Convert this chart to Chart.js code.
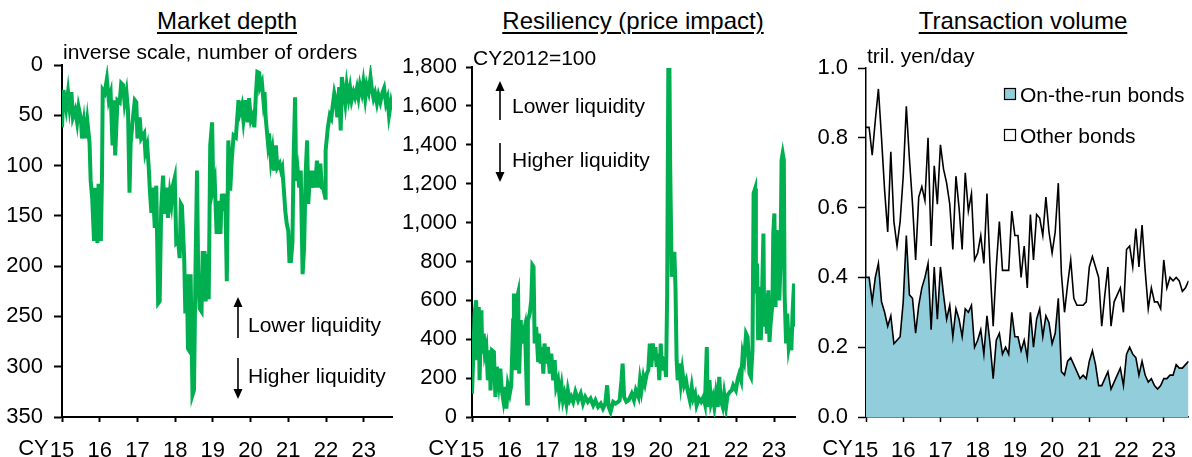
<!DOCTYPE html>
<html>
<head>
<meta charset="utf-8">
<script src="https://cdn.jsdelivr.net/npm/chart.js@4.4.1/dist/chart.umd.min.js"></script>
<style>
  body { margin: 0; background: #fff; }
  #wrap { position: relative; width: 1192px; height: 457px; overflow: hidden;
          font-family: "Liberation Sans", Arial, sans-serif; }
  #wrap canvas { position: absolute; left: 0; top: 0; }
  .ttl { position: absolute; top: 9px; font-size: 24px; line-height: 24px; white-space: nowrap;
         text-decoration: underline; text-decoration-thickness: 1.5px; text-underline-offset: 3px;
         transform: translateX(-50%); color: #000; }
</style>
</head>
<body>
<div id="wrap">
  <div class="ttl" style="left:227px">Market depth</div>
  <div class="ttl" style="left:633px">Resiliency (price impact)</div>
  <div class="ttl" style="left:1023px">Transaction volume</div>
  <canvas id="depth" width="1192" height="457"></canvas>
  <canvas id="impact" width="1192" height="457"></canvas>
  <canvas id="volume" width="1192" height="457"></canvas>
</div>
<script>
// ---- data ----
const yearLabels = ["15", "16", "17", "18", "19", "20", "21", "22", "23"];

// market depth: years since start of CY2015, number of orders
const depthT = [0.00,0.04,0.11,0.16,0.20,0.25,0.29,0.35,0.40,0.44,0.50,0.53,0.58,0.62,0.67,0.73,0.76,0.80,0.85,0.88,
  0.94,0.97,1.03,1.06,1.08,1.13,1.19,1.24,1.29,1.34,1.38,1.41,1.47,1.53,1.57,1.62,1.66,1.71,1.75,1.79,
  1.82,1.87,1.93,1.97,2.00,2.06,2.10,2.18,2.21,2.26,2.30,2.33,2.37,2.41,2.46,2.50,2.55,2.59,2.63,2.68,
  2.72,2.77,2.81,2.86,2.90,2.94,2.99,3.03,3.08,3.12,3.15,3.18,3.24,3.27,3.31,3.34,3.39,3.41,3.46,3.50,
  3.54,3.58,3.61,3.65,3.70,3.73,3.78,3.81,3.85,3.89,3.93,3.98,4.01,4.05,4.10,4.14,4.20,4.24,4.28,4.33,
  4.37,4.41,4.46,4.50,4.55,4.61,4.68,4.72,4.77,4.81,4.87,4.92,4.96,5.01,5.06,5.10,5.14,5.18,5.23,5.25,
  5.30,5.34,5.37,5.40,5.46,5.49,5.54,5.58,5.62,5.67,5.71,5.77,5.81,5.84,5.89,5.92,5.96,6.00,6.03,6.07,
  6.11,6.14,6.18,6.21,6.25,6.29,6.33,6.38,6.42,6.46,6.50,6.53,6.58,6.62,6.67,6.71,6.76,6.81,6.85,6.89,
  6.93,6.98,6.99,7.05,7.10,7.14,7.17,7.22,7.26,7.30,7.35,7.39,7.42,7.47,7.51,7.55,7.60,7.64,7.68,7.73,
  7.77,7.82,7.86,7.90,7.95,7.99,8.04,8.08,8.13,8.18,8.21,8.26,8.30,8.35,8.39,8.44,8.50,8.54,8.59,8.63,
  8.67,8.72,8.75];
const depthOrders = [62,25,43,27,42,27,52,45,57,42,53,73,57,73,55,77,115,132,175,122,
  177,118,175,112,25,28,14,35,28,80,35,90,35,37,18,20,38,27,45,127,
  78,57,35,37,73,52,73,68,87,80,102,125,147,122,162,120,237,235,142,110,
  148,122,152,128,138,120,112,177,175,192,138,140,192,247,208,282,285,208,328,323,
  202,105,205,242,245,187,187,235,188,233,80,57,122,115,168,135,168,128,145,128,
  215,75,125,95,70,72,35,47,40,55,35,57,33,55,50,62,30,7,8,22,
  17,35,27,52,77,68,95,85,105,80,102,98,105,102,128,145,158,165,195,195,
  177,95,32,115,105,122,105,208,182,108,75,138,105,122,105,122,95,122,98,122,
  123,132,85,62,50,53,43,28,35,52,22,65,12,27,38,20,33,23,35,27,
  32,23,32,20,28,17,33,20,27,12,22,33,28,38,30,37,27,23,38,33,
  50,38,45];

// resiliency: years since start of CY2015, price impact (CY2012=100)
const impactT = [0.00,0.03,0.07,0.11,0.14,0.18,0.20,0.25,0.27,0.31,0.34,0.38,0.42,0.47,0.49,0.53,0.58,0.62,0.66,0.71,
  0.75,0.79,0.83,0.87,0.91,0.95,1.00,1.04,1.09,1.11,1.15,1.18,1.22,1.25,1.29,1.32,1.36,1.40,1.42,1.46,
  1.48,1.53,1.57,1.60,1.63,1.66,1.70,1.75,1.77,1.82,1.85,1.89,1.92,1.97,2.01,2.06,2.10,2.15,2.19,2.23,
  2.28,2.32,2.37,2.41,2.45,2.50,2.54,2.59,2.63,2.68,2.74,2.81,2.88,2.94,3.00,3.07,3.14,3.21,3.27,3.34,
  3.41,3.47,3.53,3.58,3.62,3.67,3.74,3.80,3.87,3.91,3.96,3.99,4.03,4.09,4.15,
  4.23,4.29,4.34,4.41,4.45,4.49,4.54,4.58,4.63,4.67,4.71,4.75,4.79,4.82,4.86,4.89,4.93,4.96,5.00,5.03,
  5.07,5.11,5.14,5.17,5.20,5.23,5.25,5.29,5.33,5.36,5.39,5.42,5.45,5.48,5.53,5.57,5.62,5.67,5.71,5.77,
  5.82,5.86,5.91,5.95,6.01,6.07,6.13,6.17,6.22,6.24,6.29,6.33,6.38,6.42,6.46,6.51,6.55,6.59,6.64,6.68,
  6.73,6.77,6.83,6.88,6.92,6.99,7.04,7.08,7.13,7.17,7.21,7.26,7.30,7.35,7.39,7.43,7.46,7.50,7.52,7.55,
  7.58,7.61,7.65,7.68,7.72,7.74,7.78,7.81,7.85,7.88,7.91,7.96,7.98,8.01,8.04,8.07,8.11,8.14,8.17,8.20,
  8.23,8.26,8.28,8.32,8.35,8.39,8.42,8.46,8.49,8.53,8.56];
const impactIndex = [120,292,532,600,292,566,189,549,326,429,326,360,189,343,137,343,335,103,258,172,
  249,137,86,155,43,163,120,163,498,635,240,600,635,223,498,378,429,464,343,69,
  498,532,600,781,772,378,464,292,429,275,360,223,378,275,360,223,326,189,292,155,
  189,103,163,86,120,69,137,86,103,78,129,86,120,69,103,78,95,60,86,52,
  69,43,69,163,52,26,78,69,78,86,189,275,103,78,86,
  120,86,137,103,189,137,206,172,223,240,378,258,378,292,360,258,326,189,378,240,
  292,275,206,635,1785,1785,1287,721,807,850,669,292,189,275,172,240,163,189,137,86,
  155,95,120,60,95,78,103,69,360,52,189,69,103,52,120,52,206,86,52,120,
  52,112,129,137,163,137,197,223,189,326,292,429,412,223,206,343,1150,1175,635,789,
  395,669,395,600,944,464,635,429,652,386,481,583,944,1047,566,961,824,600,772,1321,
  1356,1321,635,378,532,360,395,343,532,686,464];

// transaction volume, monthly from Jan 2015, tril. yen/day
const onTheRun = [0.40,0.40,0.33,0.40,0.44,0.33,0.30,0.26,0.29,0.21,0.22,0.23,0.33,0.52,0.35,0.34,0.24,0.32,0.37,0.40,
  0.44,0.25,0.43,0.28,0.43,0.35,0.28,0.32,0.23,0.31,0.28,0.23,0.31,0.30,0.32,0.20,0.22,0.25,0.18,0.29,
  0.21,0.11,0.22,0.24,0.18,0.20,0.18,0.30,0.23,0.23,0.19,
  0.22,0.17,0.30,0.20,0.28,0.31,0.23,0.29,0.27,0.21,0.24,0.34,0.13,0.12,0.16,0.17,0.15,0.13,0.11,0.12,
  0.11,0.16,0.19,0.15,0.09,0.09,0.11,0.13,0.08,0.10,0.12,0.14,0.09,0.18,0.20,0.18,0.17,0.12,0.16,0.12,
  0.10,0.11,0.09,0.08,0.09,0.11,0.11,0.12,0.12,0.15,0.14,0.14,0.15,0.16];
const otherBonds = [0.43,0.43,0.42,0.45,0.50,0.47,0.35,0.27,0.47,0.35,0.27,0.33,0.36,0.37,0.39,0.27,0.21,0.31,0.29,0.22,
  0.36,0.24,0.29,0.33,0.35,0.36,0.39,0.29,0.25,0.38,0.32,0.25,0.39,0.29,0.32,0.25,0.25,0.27,0.26,0.35,
  0.22,0.15,0.21,0.32,0.24,0.22,0.24,0.29,0.29,0.29,0.21,
  0.27,0.20,0.28,0.25,0.30,0.26,0.29,0.34,0.26,0.26,0.29,0.33,0.28,0.18,0.22,0.28,0.19,0.19,0.21,0.20,
  0.22,0.27,0.27,0.28,0.31,0.17,0.24,0.30,0.18,0.23,0.23,0.23,0.21,0.30,0.29,0.25,0.37,0.31,0.39,0.30,
  0.21,0.26,0.24,0.25,0.22,0.34,0.26,0.28,0.27,0.25,0.25,0.22,0.22,0.23];

// ---- styles ----
const FONT = '"Liberation Sans", Arial, sans-serif';
const GREEN = "#00B050";
const BLUE = "#92CDDC";
const X_PAD = 16;
Chart.defaults.font.family = FONT;
Chart.defaults.font.size = 22;
Chart.defaults.color = "#000";
Chart.defaults.animation = false;

function xAxis(max, bw) {
  return {
    type: "linear", min: 2015, max: max,
    grid: { drawOnChartArea: false, tickLength: 5, tickColor: "#000", tickWidth: bw },
    border: { color: "#000", width: bw },
    ticks: { stepSize: 1, includeBounds: false, autoSkip: false, maxRotation: 0, padding: X_PAD,
             callback: v => yearLabels[v - 2015] ?? "" },
    afterFit: s => { s.height = 40; }
  };
}

// draws the annotation texts, arrows, legend boxes and the "CY" prefix
function notes(cfg) {
  return {
    id: "notes",
    afterDraw(chart) {
      const ctx = chart.ctx;
      ctx.save();
      ctx.fillStyle = "#000";
      ctx.strokeStyle = "#000";
      ctx.font = "21px " + FONT;
      ctx.textBaseline = "alphabetic";
      ctx.textAlign = "left";
      (cfg.texts || []).forEach(t => ctx.fillText(t[0], t[1], t[2]));
      (cfg.arrows || []).forEach(a => {
        const [x, y1, y2] = a;
        const dir = y2 < y1 ? -1 : 1;
        ctx.lineWidth = 1.6;
        ctx.beginPath();
        ctx.moveTo(x, y1);
        ctx.lineTo(x, y2 - dir * 8);
        ctx.stroke();
        ctx.beginPath();
        ctx.moveTo(x, y2);
        ctx.lineTo(x - 4.5, y2 - dir * 10);
        ctx.lineTo(x + 4.5, y2 - dir * 10);
        ctx.closePath();
        ctx.fill();
      });
      (cfg.boxes || []).forEach(b => {
        ctx.fillStyle = b[4];
        ctx.fillRect(b[0], b[1], b[2], b[3]);
        ctx.lineWidth = 1.2;
        ctx.strokeStyle = "#000";
        ctx.strokeRect(b[0] + 0.5, b[1] + 0.5, b[2] - 1, b[3] - 1);
      });
      // "CY" before the first year label
      const xs = chart.scales.x;
      const x0 = xs.getPixelForValue(2015);
      ctx.fillStyle = "#000";
      ctx.font = "22px " + FONT;
      ctx.textBaseline = "top";
      ctx.textAlign = "right";
      ctx.fillText("CY", x0 - ctx.measureText("15").width / 2 - 1, xs.top + 5 + X_PAD);
      ctx.restore();
    }
  };
}

// ---- market depth ----
new Chart(document.getElementById("depth"), {
  type: "line",
  data: {
    datasets: [{
      data: depthT.map((t, i) => ({ x: 2015 + t, y: depthOrders[i] })),
      borderColor: GREEN, borderWidth: 4, pointRadius: 0, tension: 0
    }]
  },
  options: {
    responsive: false,
    layout: { padding: { top: 65, right: 800, left: 0, bottom: 0 } },
    plugins: { legend: { display: false }, tooltip: { enabled: false } },
    scales: {
      x: xAxis(2023.75, 2),
      y: {
        min: 0, max: 350, reverse: true,
        grid: { drawOnChartArea: false, tickLength: 8, tickColor: "#000", tickWidth: 2 },
        border: { color: "#000", width: 2 },
        ticks: { stepSize: 50, padding: 11 },
        afterFit: s => { s.width = 62; }
      }
    }
  },
  plugins: [notes({
    texts: [["inverse scale, number of orders", 63, 59],
            ["Lower liquidity", 248, 332], ["Higher liquidity", 248, 383]],
    arrows: [[238, 338, 297], [238, 358, 399]]
  })]
});

// ---- resiliency ----
new Chart(document.getElementById("impact"), {
  type: "line",
  data: {
    datasets: [{
      data: impactT.map((t, i) => ({ x: 2015 + t, y: impactIndex[i] })),
      borderColor: GREEN, borderWidth: 4, pointRadius: 0, tension: 0
    }]
  },
  options: {
    responsive: false,
    layout: { padding: { top: 67, right: 397, left: 0, bottom: 0 } },
    plugins: { legend: { display: false }, tooltip: { enabled: false } },
    scales: {
      x: xAxis(2023.556, 2),
      y: {
        min: 0, max: 1800,
        grid: { drawOnChartArea: false, tickLength: 6, tickColor: "#000", tickWidth: 2 },
        border: { color: "#000", width: 2 },
        ticks: { stepSize: 200, padding: 9, callback: v => v.toLocaleString("en-US") },
        afterFit: s => { s.width = 472; }
      }
    }
  },
  plugins: [notes({
    texts: [["CY2012=100", 473, 65],
            ["Lower liquidity", 512, 113], ["Higher liquidity", 512, 167]],
    arrows: [[500, 120, 81], [500, 143, 182]]
  })]
});

// ---- transaction volume ----
const months = onTheRun.map((_, i) => 2015 + i / 12);
new Chart(document.getElementById("volume"), {
  type: "line",
  data: {
    datasets: [{
      label: "On-the-run bonds",
      data: months.map((x, i) => ({ x: x, y: onTheRun[i] })),
      borderColor: "#000", borderWidth: 1.6, backgroundColor: BLUE,
      fill: "origin", pointRadius: 0, tension: 0
    }, {
      label: "Other bonds",
      data: months.map((x, i) => ({ x: x, y: otherBonds[i] })),
      borderColor: "#000", borderWidth: 1.6, backgroundColor: "#fff",
      fill: false, pointRadius: 0, tension: 0
    }]
  },
  options: {
    responsive: false,
    layout: { padding: { top: 68, right: 0, left: 0, bottom: 0 } },
    plugins: { legend: { display: false }, tooltip: { enabled: false } },
    scales: {
      x: xAxis(2015 + (onTheRun.length - 1) / 12, 1.5),
      y: {
        min: 0, max: 1, stacked: true,
        grid: { drawOnChartArea: false, tickLength: 8, tickColor: "#000", tickWidth: 1.5 },
        border: { color: "#000", width: 1.5 },
        ticks: { stepSize: 0.2, padding: 10, callback: v => v.toFixed(1) },
        afterFit: s => { s.width = 866; }
      }
    }
  },
  plugins: [notes({
    texts: [["tril. yen/day", 867, 63],
            ["On-the-run bonds", 1020, 102], ["Other bonds", 1020, 143]],
    boxes: [[1004, 88, 12, 12, BLUE], [1004, 129, 12, 12, "#fff"]]
  })]
});
</script>
</body>
</html>
